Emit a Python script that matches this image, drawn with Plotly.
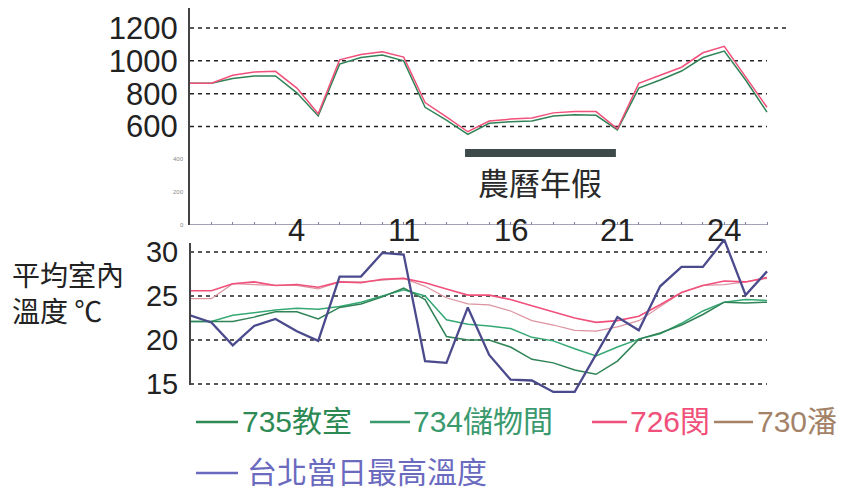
import plotly.graph_objects as go

# ---------------- data ----------------
days = list(range(28))
date_tick_pos = [5, 10, 15, 20, 25]
date_tick_text = ["4", "11", "16", "21", "24"]

# top panel
top_726 = [863, 863, 912, 932, 936, 834, 678, 1006, 1039, 1055, 1023, 746, 659, 568,
           633, 645, 652, 683, 691, 691, 586, 863, 912, 961, 1049, 1088, 902, 717]
top_735 = [863, 863, 893, 908, 908, 805, 664, 980, 1020, 1035, 1000, 717, 639, 552,
           620, 629, 633, 664, 672, 668, 580, 834, 883, 938, 1020, 1059, 883, 688]
top_ticks = [600, 800, 1000, 1200]
top_small_ticks = [0, 200, 400]

# bottom panel (°C)
t_735 = [22.1, 22.1, 22.1, 22.6, 23.2, 23.2, 22.4, 23.7, 24.1, 24.9, 25.9, 24.6, 20.4, 20.0,
         20.0, 19.2, 17.8, 17.4, 16.6, 16.1, 17.6, 20.1, 20.8, 21.7, 22.9, 24.3, 24.2, 24.3]
t_734 = [22.1, 22.1, 22.8, 23.1, 23.4, 23.6, 23.5, 23.8, 24.3, 25.0, 25.7, 25.0, 22.3, 21.8,
         21.6, 21.3, 20.3, 19.9, 19.0, 18.2, 19.2, 20.1, 20.7, 21.9, 23.3, 24.3, 24.6, 24.5]
t_726 = [25.6, 25.6, 26.4, 26.6, 26.2, 26.3, 26.0, 26.6, 26.5, 26.9, 27.0, 26.5, 25.8, 25.1,
         25.1, 24.6, 23.9, 23.2, 22.5, 22.0, 22.2, 22.7, 24.0, 25.4, 26.2, 26.7, 26.6, 27.1]
t_730 = [24.7, 24.7, 26.4, 26.3, 26.2, 26.2, 25.8, 26.6, 26.6, 26.8, 27.0, 26.1, 24.8, 24.1,
         24.0, 23.3, 22.2, 21.7, 21.1, 21.0, 21.5, 22.2, 23.8, 25.4, 26.2, 26.3, 26.6, 27.0]
t_taipei = [22.8, 22.0, 19.4, 21.6, 22.4, 21.0, 19.9, 27.2, 27.2, 29.9, 29.7, 17.6, 17.4, 23.7,
            18.3, 15.5, 15.4, 14.1, 14.1, 18.4, 22.6, 21.1, 26.1, 28.3, 28.3, 31.4, 25.1, 27.8]
bottom_ticks = [15, 20, 25, 30]

legend_names = ["735教室", "734儲物間", "726閔", "730潘", "台北當日最高溫度"]
holiday_label = "農曆年假"
holiday_span = [12.87, 19.93]
ylabel_text = "平均室內<br>溫度 ℃"

# ---------------- styles ----------------
W, H = 853, 492
C735 = "#2f8355"
C734 = "#35a874"
C726 = "#f0507a"
C730 = "#dc93a0"
CBLUE = "#4b4a8c"
TXT735 = "#2e8a55"
TXT734 = "#3a9a6e"
TXT726 = "#f0507a"
TXT730 = "#a38268"
TXTBLUE = "#6a6abf"
FONT = "Liberation Sans, Noto Sans CJK TC, sans-serif"
CJK = "Noto Sans CJK TC, sans-serif"

def px_x(p):
    return p / W

def px_y(p):
    return 1 - p / H

x_left, x_right = 190, 790
step = (767 - 190) / 27
x_max = (x_right - x_left) / step

fig = go.Figure()

# top panel traces
fig.add_trace(go.Scatter(x=days, y=top_735, mode="lines", line=dict(color=C735, width=1.5),
                         xaxis="x", yaxis="y", showlegend=False, name=legend_names[0]))
fig.add_trace(go.Scatter(x=days, y=top_726, mode="lines", line=dict(color=C726, width=1.5),
                         xaxis="x", yaxis="y", showlegend=False, name=legend_names[2]))

# bottom panel traces
fig.add_trace(go.Scatter(x=days, y=t_730, mode="lines", line=dict(color=C730, width=1.2),
                         xaxis="x2", yaxis="y2", showlegend=False, name=legend_names[3]))
fig.add_trace(go.Scatter(x=days, y=t_726, mode="lines", line=dict(color=C726, width=1.6),
                         xaxis="x2", yaxis="y2", showlegend=False, name=legend_names[2]))
fig.add_trace(go.Scatter(x=days, y=t_734, mode="lines", line=dict(color=C734, width=1.5),
                         xaxis="x2", yaxis="y2", showlegend=False, name=legend_names[1]))
fig.add_trace(go.Scatter(x=days, y=t_735, mode="lines", line=dict(color=C735, width=1.5),
                         xaxis="x2", yaxis="y2", showlegend=False, name=legend_names[0]))
fig.add_trace(go.Scatter(x=days, y=t_taipei, mode="lines", line=dict(color=CBLUE, width=2.3),
                         xaxis="x2", yaxis="y2", showlegend=False, name=legend_names[4]))

shapes = []
grid = dict(color="#222222", width=1.5, dash="4px,4px")
for v in top_ticks:
    x1 = x_max if v == 1200 else 27
    shapes.append(dict(type="line", xref="x", yref="y", x0=0, x1=x1, y0=v, y1=v, line=grid, layer="below"))
for v in bottom_ticks:
    shapes.append(dict(type="line", xref="x2", yref="y2", x0=0, x1=27, y0=v, y1=v, line=grid, layer="below"))
# top x axis line
shapes.append(dict(type="line", xref="x", yref="y", x0=0, x1=27, y0=0, y1=0,
                   line=dict(color="#85839f", width=1.5)))
# lower y axis line
shapes.append(dict(type="line", xref="paper", yref="paper", x0=px_x(x_left), x1=px_x(x_left),
                   y0=px_y(385), y1=px_y(243), line=dict(color="#444444", width=2)))
# holiday bar
shapes.append(dict(type="rect", xref="x", yref="y", x0=holiday_span[0], x1=holiday_span[1],
                   y0=414, y1=463, fillcolor="#3e4a4a", line=dict(width=0)))

ann = []
ann.append(dict(x=sum(holiday_span) / 2, y=268, xref="x", yref="y", text=holiday_label,
                showarrow=False, xanchor="center", yanchor="middle",
                font=dict(family=CJK, size=31, color="#2a2a2a")))
for pos, t in zip(date_tick_pos, date_tick_text):
    ann.append(dict(x=pos, y=px_y(230), xref="x", yref="paper", text=t, showarrow=False,
                    xanchor="center", yanchor="middle",
                    font=dict(family=FONT, size=31, color="#222222")))
for v in top_small_ticks:
    ann.append(dict(x=px_x(186), y=v, xref="paper", yref="y", text=str(v), showarrow=False,
                    xanchor="right", yanchor="middle",
                    font=dict(family=FONT, size=6, color="#888888")))
ann.append(dict(x=px_x(10), y=px_y(292), xref="paper", yref="paper", text=ylabel_text,
                showarrow=False, xanchor="left", yanchor="middle", align="left",
                font=dict(family=CJK, size=28, color="#222222")))

# legend: colored dash (shape) + colored text
legend_items = [
    (legend_names[0], TXT735, 196, 238, 240, 421),
    (legend_names[1], TXT734, 370, 410, 411, 421),
    (legend_names[2], TXT726, 592, 627, 628, 421),
    (legend_names[3], TXT730, 714, 753, 755, 421),
    (legend_names[4], TXTBLUE, 196, 238, 245, 472),
]
for name, col, d0, d1, tx, yp in legend_items:
    shapes.append(dict(type="line", xref="paper", yref="paper", x0=px_x(d0), x1=px_x(d1),
                       y0=px_y(yp + 1), y1=px_y(yp + 1), line=dict(color=col, width=2.5)))
    ann.append(dict(x=px_x(tx), y=px_y(yp), xref="paper", yref="paper", text=name,
                    showarrow=False, xanchor="left", yanchor="middle",
                    font=dict(family=FONT, size=30, color=col)))

top_range = [0, (225 - 8) / (197 / 1200)]
bot_px_per = (384 - 252) / 15
bot_bottom_px, bot_top_px = 396, 236
bot_range = [15 - (bot_bottom_px - 384) / bot_px_per, 30 + (252 - bot_top_px) / bot_px_per]

fig.update_layout(
    template="none",
    width=W, height=H,
    margin=dict(l=0, r=0, t=0, b=0, pad=0, autoexpand=False),
    paper_bgcolor="white", plot_bgcolor="white",
    showlegend=False,
    xaxis=dict(domain=[px_x(x_left), px_x(x_right)], range=[0, x_max], anchor="y", automargin=False,
               showgrid=False, zeroline=False, showline=False, showticklabels=False,
               tickmode="array", tickvals=days, ticks="inside", ticklen=3, tickcolor="#85839f"),
    yaxis=dict(domain=[px_y(225), px_y(8)], range=top_range, anchor="x", automargin=False,
               showgrid=False, zeroline=False, showline=True, linecolor="#444444", linewidth=2,
               tickmode="array", tickvals=top_ticks, ticktext=[str(v) for v in top_ticks],
               ticks="outside", ticklen=4, tickcolor="rgba(0,0,0,0)",
               tickfont=dict(family=FONT, size=31, color="#222222")),
    xaxis2=dict(domain=[px_x(x_left), px_x(x_right)], range=[0, x_max], anchor="y2", automargin=False,
                showgrid=False, zeroline=False, showline=False, showticklabels=False, ticks=""),
    yaxis2=dict(domain=[px_y(bot_bottom_px), px_y(bot_top_px)], range=bot_range, anchor="x2",
                automargin=False,
                showgrid=False, zeroline=False, showline=False,
                tickmode="array", tickvals=bottom_ticks, ticktext=[str(v) for v in bottom_ticks],
                ticks="outside", ticklen=5, tickcolor="rgba(0,0,0,0)",
                tickfont=dict(family=FONT, size=29, color="#222222")),
    shapes=shapes,
    annotations=ann,
)

fig.write_html("out.html", config={"displayModeBar": False},
               post_script="document.body.style.margin='0';")
